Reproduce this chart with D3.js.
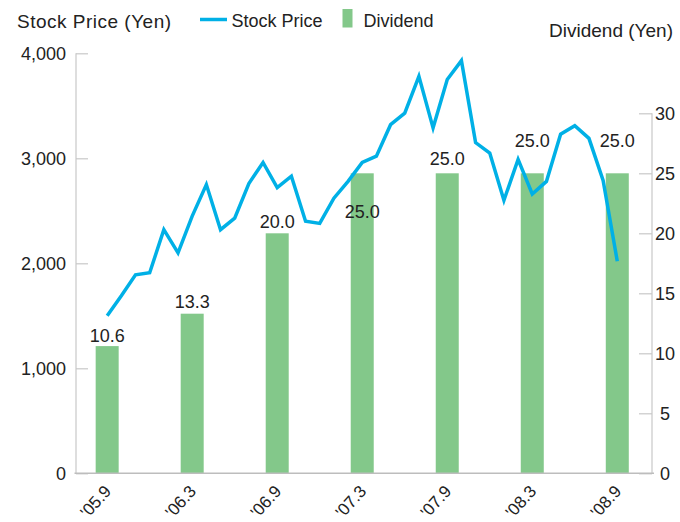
<!DOCTYPE html>
<html>
<head>
<meta charset="utf-8">
<script src="https://cdn.jsdelivr.net/npm/d3@7"></script>
<style>
  body { margin: 0; background: #fff; }
  text { font-family: "Liberation Sans", Arial, sans-serif; fill: #222; }
</style>
</head>
<body>
<div id="chart"></div>
<script>
// monthly closing price, '05.9 .. '08.9
var price = [1500, 1690, 1890, 1910, 2320, 2100, 2450, 2750, 2320, 2430,
             2760, 2960, 2720, 2830, 2400, 2380, 2620, 2780, 2960, 3020,
             3320, 3430, 3780, 3290, 3750, 3930, 3150, 3050, 2600, 2990,
             2660, 2780, 3230, 3310, 3190, 2790, 2020];

var dividend      = [10.6, 13.3, 20.0, 25.0, 25.0, 25.0, 25.0];
var dividendMonth = [0, 6, 12, 18, 24, 30, 36];
var xLabels       = ["'05.9", "'06.3", "'06.9", "'07.3", "'07.9", "'08.3", "'08.9"];

var priceTicks    = [0, 1000, 2000, 3000, 4000];
var dividendTicks = [0, 5, 10, 15, 20, 25, 30];

// label nudges (px from bar top), the source moves some off the line
var labelDy = [-4, -6, -5, 45, -8, -26, -26];

var chart = {
  width: 680,
  height: 522,
  left: 76,
  right: 652,
  bottom: 473.3
};

var svg = d3.select("#chart").append("svg")
  .attr("width", chart.width)
  .attr("height", chart.height);

var x = d3.scaleLinear().domain([-2.2, 38.45]).range([chart.left, chart.right]);
var yPrice = d3.scaleLinear().domain([0, 4000]).range([chart.bottom, 53.3]);
var yDiv = d3.scaleLinear().domain([0, 30]).range([chart.bottom, 113.3]);

var barWidth = 23;

// bars
svg.append("g")
  .selectAll("rect")
  .data(dividend)
  .enter().append("rect")
  .attr("x", function(d, i) { return x(dividendMonth[i]) - barWidth / 2; })
  .attr("y", function(d) { return yDiv(d); })
  .attr("width", barWidth)
  .attr("height", function(d) { return chart.bottom - yDiv(d); })
  .style("fill", "#83c88a");

// axes
var leftAxis = svg.append("g")
  .attr("transform", "translate(" + chart.left + ",0)")
  .call(d3.axisRight(yPrice).tickValues(priceTicks).tickSize(12).tickFormat(""));

var rightAxis = svg.append("g")
  .attr("transform", "translate(" + chart.right + ",0)")
  .call(d3.axisLeft(yDiv).tickValues(dividendTicks).tickSize(13).tickFormat(""));

[leftAxis, rightAxis].forEach(function(a) {
  a.select(".domain").remove();
  a.selectAll("line").style("stroke", "#c8c8c8").style("stroke-width", 1.2);
});

svg.append("line")
  .attr("x1", chart.left).attr("x2", chart.left)
  .attr("y1", yPrice(4000)).attr("y2", chart.bottom)
  .style("stroke", "#c8c8c8").style("stroke-width", 1.2);

svg.append("line")
  .attr("x1", chart.right).attr("x2", chart.right)
  .attr("y1", yDiv(30)).attr("y2", chart.bottom)
  .style("stroke", "#c8c8c8").style("stroke-width", 1.2);

svg.append("line")
  .attr("x1", chart.left - 1.5).attr("x2", chart.right + 2)
  .attr("y1", chart.bottom).attr("y2", chart.bottom)
  .style("stroke", "#bdbdbd").style("stroke-width", 1.5);

// tick labels
svg.append("g").selectAll("text")
  .data(priceTicks)
  .enter().append("text")
  .attr("x", 66)
  .attr("y", function(d) { return yPrice(d); })
  .attr("dy", "0.36em")
  .style("text-anchor", "end")
  .style("font-size", "18px")
  .text(d3.format(","));

svg.append("g").selectAll("text")
  .data(dividendTicks)
  .enter().append("text")
  .attr("x", 665)
  .attr("y", function(d) { return yDiv(d); })
  .attr("dy", "0.36em")
  .style("text-anchor", "middle")
  .style("font-size", "18px")
  .text(function(d) { return d; });

svg.append("g").selectAll("text")
  .data(xLabels)
  .enter().append("text")
  .attr("transform", function(d, i) {
    return "translate(" + (x(dividendMonth[i]) + 5) + "," + 492 + ") rotate(-48)";
  })
  .style("text-anchor", "end")
  .style("font-size", "17px")
  .text(function(d) { return d; });

// line
var line = d3.line()
  .x(function(d, i) { return x(i); })
  .y(function(d) { return yPrice(d); });

svg.append("path")
  .datum(price)
  .attr("d", line)
  .style("fill", "none")
  .style("stroke", "#00b0e6")
  .style("stroke-width", 3.5)
  .style("stroke-linejoin", "miter");

// value labels
svg.append("g").selectAll("text")
  .data(dividend)
  .enter().append("text")
  .attr("x", function(d, i) { return x(dividendMonth[i]); })
  .attr("y", function(d, i) { return yDiv(d) + labelDy[i]; })
  .style("text-anchor", "middle")
  .style("font-size", "18px")
  .text(d3.format(".1f"));

// titles and legend
svg.append("text")
  .attr("x", 17).attr("y", 27.5)
  .style("font-size", "19px")
  .style("letter-spacing", "0.5px")
  .text("Stock Price (Yen)");

svg.append("text")
  .attr("x", 673).attr("y", 36.5)
  .style("text-anchor", "end")
  .style("font-size", "19px")
  .text("Dividend (Yen)");

var legend = svg.append("g");

legend.append("line")
  .attr("x1", 200).attr("x2", 227)
  .attr("y1", 19.5).attr("y2", 19.5)
  .style("stroke", "#00b0e6")
  .style("stroke-width", 3.5);

legend.append("text")
  .attr("x", 231.5).attr("y", 27)
  .style("font-size", "18px")
  .text("Stock Price");

legend.append("rect")
  .attr("x", 342.5).attr("y", 9)
  .attr("width", 10).attr("height", 18.5)
  .style("fill", "#83c88a");

legend.append("text")
  .attr("x", 363.5).attr("y", 27)
  .style("font-size", "18px")
  .text("Dividend");
</script>
</body>
</html>
